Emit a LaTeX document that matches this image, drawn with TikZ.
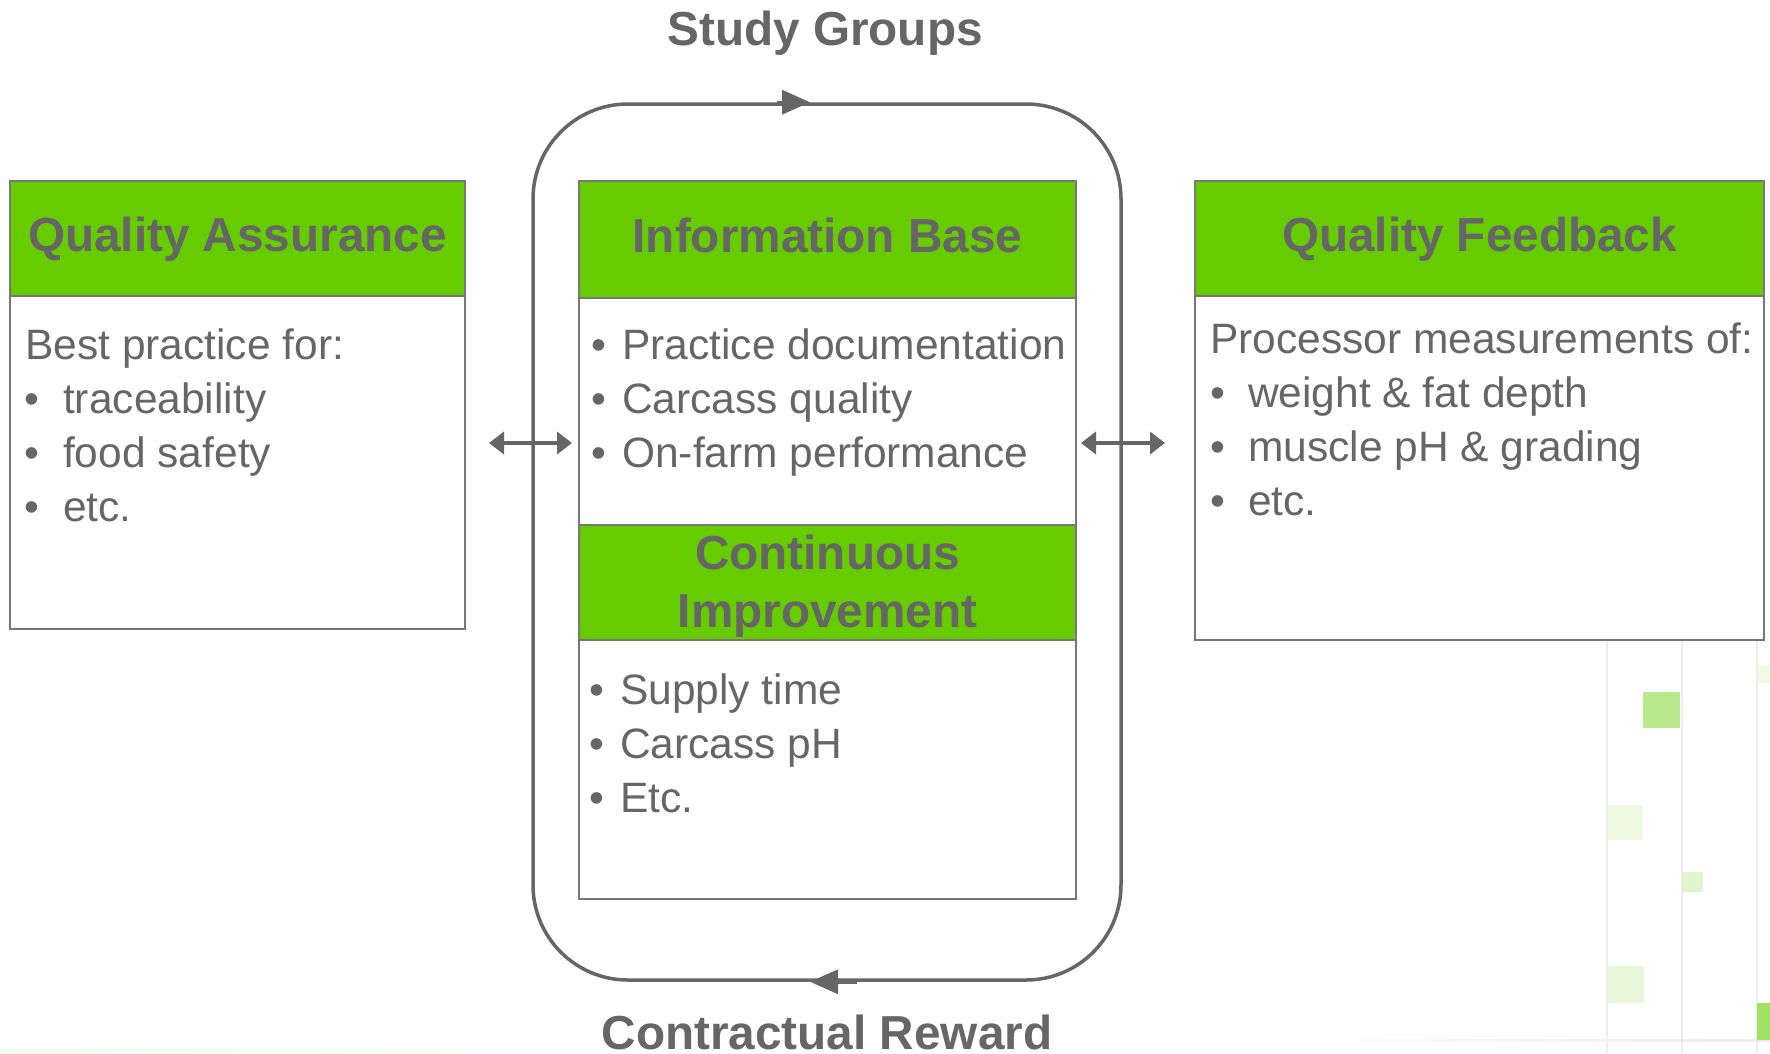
\documentclass[tikz,border=0pt]{standalone}
\usepackage{fontspec}
\setmainfont{Liberation Sans}
\usetikzlibrary{arrows.meta,positioning}
\definecolor{leafgreen}{HTML}{66CC00}
\definecolor{slate}{HTML}{666666}
\definecolor{frame}{HTML}{777777}
\begin{document}
\begin{tikzpicture}[x=1pt,y=-1pt] % one unit = one pixel, y grows downwards
\tikzstyle{head} = [rectangle, draw=frame, line width=2pt, fill=leafgreen, text=slate, font=\fontsize{47.7}{58}\selectfont\bfseries, align=center, inner sep=0pt, outer sep=0pt] % green title bar
\tikzstyle{oneline} = [text height=35pt, text depth=10pt] % same baseline in every single-line bar
\tikzstyle{body} = [rectangle, draw=frame, line width=2pt, fill=white, inner sep=0pt, outer sep=0pt] % white panel under a title bar
\tikzstyle{txt} = [anchor=base west, inner sep=0pt, text=slate, font=\fontsize{42.5}{54}\selectfont] % one line of a list
\tikzstyle{title} = [anchor=base, inner sep=0pt, text=slate, font=\fontsize{47.7}{58}\selectfont\bfseries] % loop captions
\tikzstyle{both} = [{Triangle[length=15pt,width=22pt]}-{Triangle[length=15pt,width=22pt]}, draw=slate, line width=4pt]
\tikzstyle{turn} = [-{Triangle[length=28pt,width=24pt]}, draw=slate, line width=3.5pt]

\useasboundingbox (0,0) rectangle (1770,1053);

% faint background pattern, lower right corner
\foreach \x in {1607,1682,1757} \draw[black!7, line width=1.5pt] (\x,600) -- (\x,1053);
\shade[left color=white, right color=black!8] (1300,1039) rectangle (1770,1041);
\fill[leafgreen!45] (1643,692) rectangle (1680,728);
\fill[leafgreen!12] (1608,805) rectangle (1643,840);
\fill[leafgreen!20] (1682,872) rectangle (1703,892);
\fill[leafgreen!15] (1608,966) rectangle (1644,1003);
\fill[leafgreen!10] (1758,665) rectangle (1770,683);
\fill[leafgreen!60] (1757,1003) rectangle (1770,1040);
\shade[left color=leafgreen!8, right color=white] (0,1049) rectangle (500,1053);

% the study group / reward loop
\node[draw=slate, line width=3.5pt, rounded corners=95pt, minimum width=588pt, minimum height=876pt, inner sep=0pt] (cycle) at (827,542) {};
\draw[turn] ([xshift=-50pt]cycle.north) -- ([xshift=-17pt]cycle.north);
\draw[turn] ([xshift=30pt]cycle.south) -- ([xshift=-17pt]cycle.south);
\node[title] (sg) at (825,45) {Study Groups};
\node[title] (cr) at (827,1049) {Contractual Reward};

% left panel
\node[head, oneline, minimum width=455pt, minimum height=115pt] (qa) at (237.5,238.5) {Quality Assurance};
\node[body, minimum width=455pt, minimum height=333pt, below=0pt of qa] (qabody) {};
\node[txt] (qa0) at (25,359) {Best practice for:};
\foreach \t [count=\i] in {traceability, food safety, etc.}
	\node[txt] (qa\i) at (24,{359+54*\i}) {\makebox[39pt][l]{\textbullet}\t};

% middle panels
\node[head, oneline, minimum width=497pt, minimum height=117pt] (ib) at (827.5,239.5) {Information Base};
\node[body, minimum width=497pt, minimum height=227pt, below=0pt of ib] (ibbody) {};
\foreach \t [count=\i] in {Practice documentation, Carcass quality, On-farm performance}
	\node[txt] (ib\i) at (591,{305+54*\i}) {\makebox[31pt][l]{\textbullet}\t};
\node[head, minimum width=497pt, minimum height=115pt, below=0pt of ibbody] (ci) {};
\node[head, draw=none, fill=none, yshift=-3.4pt] (citext) at (ci) {Continuous\\Improvement};
\node[body, minimum width=497pt, minimum height=259pt, below=0pt of ci] (cibody) {};
\foreach \t [count=\i] in {Supply time, Carcass pH, Etc.}
	\node[txt] (ci\i) at (589,{650+54*\i}) {\makebox[31pt][l]{\textbullet}\t};

% right panel
\node[head, oneline, minimum width=569pt, minimum height=115pt] (qf) at (1479.5,238.5) {Quality Feedback};
\node[body, minimum width=569pt, minimum height=344pt, below=0pt of qf] (qfbody) {};
\node[txt] (qf0) at (1210,353) {Processor measurements of:};
\foreach \t [count=\i] in {weight \& fat depth, muscle pH \& grading, etc.}
	\node[txt] (qf\i) at (1210,{353+54*\i}) {\makebox[38pt][l]{\textbullet}\t};

% links between the panels
\coordinate (lvl) at (0,443);
\draw[both, shorten <=24pt, shorten >=7pt] (qabody.east |- lvl) -- (ibbody.west |- lvl);
\draw[both, shorten <=5pt, shorten >=30pt] (ibbody.east |- lvl) -- (qfbody.west |- lvl);
\end{tikzpicture}
\end{document}
